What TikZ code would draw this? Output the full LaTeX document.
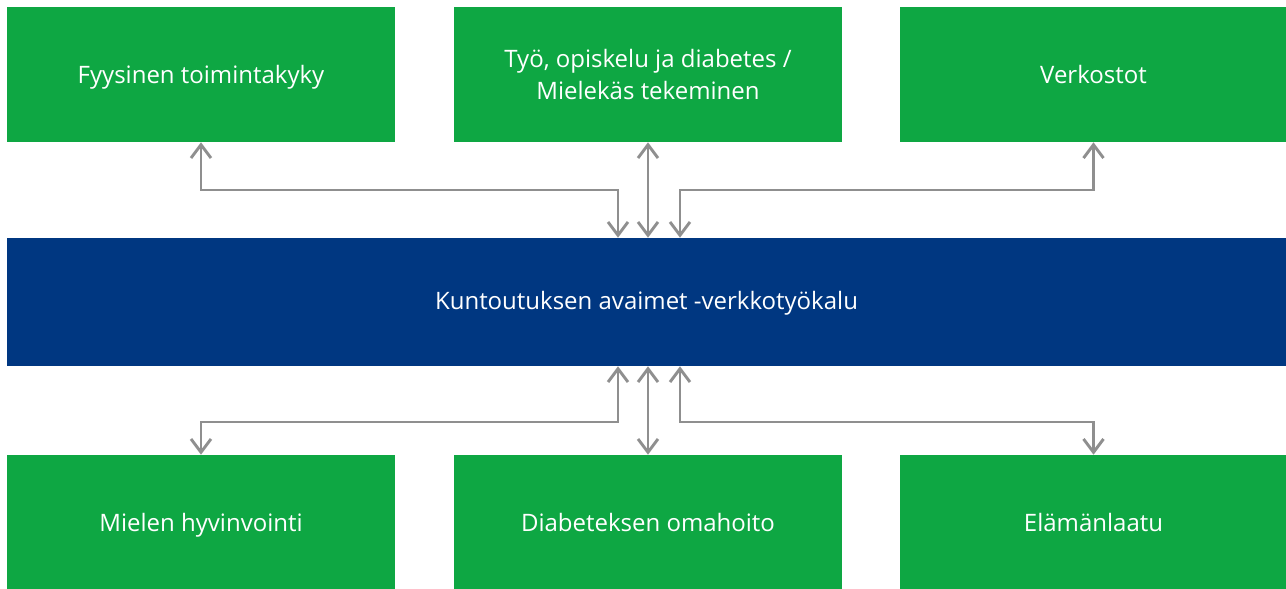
\documentclass[tikz,border=0pt]{standalone}
\usepackage{fontspec}
\setmainfont{Open Sans}
\usetikzlibrary{arrows.meta,positioning,calc}
\definecolor{boxgreen}{HTML}{0EA743}
\definecolor{barblue}{HTML}{003781}
\definecolor{linkgray}{HTML}{8F8F8F}
\tikzset{
  areabox/.style={fill=boxgreen, text=white, align=center, inner sep=0pt,
    minimum width=388*0.75pt, minimum height=135*0.75pt,
    text height=1.6em, text depth=0.23em, font=\fontsize{18}{24}\selectfont},
  toolbar/.style={fill=barblue, text=white, inner sep=0pt,
    minimum width=1279*0.75pt, minimum height=128*0.75pt,
    text height=1.4em, text depth=0.25em, font=\fontsize{18}{24}\selectfont},
  link/.style={{Straight Barb[length=10pt,width=15pt,line width=2.2pt]}-{Straight Barb[length=10pt,width=15pt,line width=2.2pt]},
    line width=2.2pt, draw=linkgray}
}
\begin{document}
\begin{tikzpicture}[x=0.75pt,y=-0.75pt]
  \useasboundingbox (0,0) rectangle (1286,589);
  % top row
  \node[areabox] (fyys) at (201,74.5) {Fyysinen toimintakyky};
  \node[areabox, text height=, text depth=] (tyo) at (648,74.5) {Työ, opiskelu ja diabetes /\\Mielekäs tekeminen};
  \node[areabox] (verk) at (1093.5,74.5) {Verkostot};
  % tool
  \node[toolbar] (tool) at (646.5,302) {Kuntoutuksen avaimet -verkkotyökalu};
  % bottom row
  \node[areabox] (miel) at (201,522.5) {Mielen hyvinvointi};
  \node[areabox] (omah) at (648,522.5) {Diabeteksen omahoito};
  \node[areabox] (elam) at (1093.5,522.5) {Elämänlaatu};
  % bends
  \coordinate (tl) at (618,190);
  \coordinate (tr) at (680,190);
  \coordinate (bl) at (618,422);
  \coordinate (br) at (680,422);
  % links
  \draw[link] (fyys.south) |- (tl) -- (tl |- tool.north);
  \draw[link] (tyo.south) -- (tyo.south |- tool.north);
  \draw[link] (verk.south) |- (tr) -- (tr |- tool.north);
  \draw[link] (miel.north) |- (bl) -- (bl |- tool.south);
  \draw[link] (omah.north) -- (omah.north |- tool.south);
  \draw[link] (elam.north) |- (br) -- (br |- tool.south);
\end{tikzpicture}
\end{document}
